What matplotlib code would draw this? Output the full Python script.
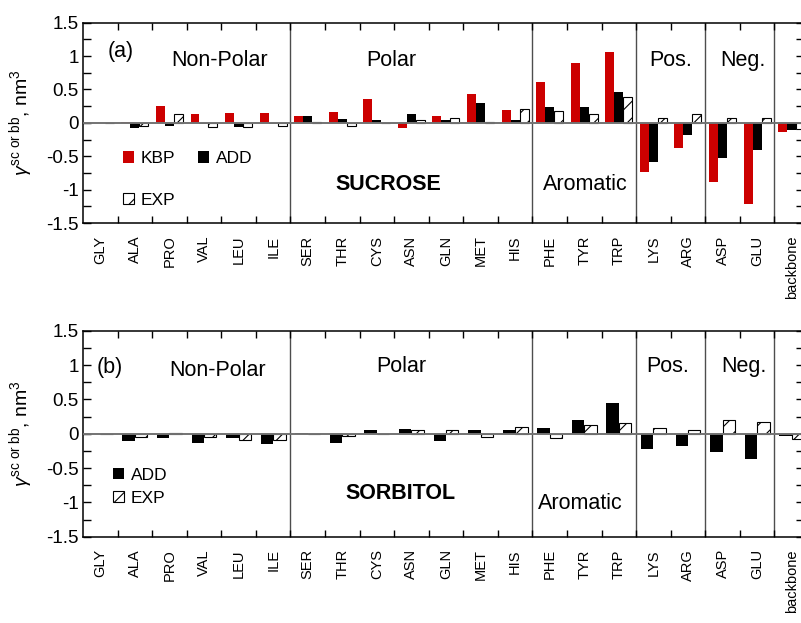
import matplotlib
matplotlib.use('Agg')
import matplotlib.pyplot as plt
from matplotlib.patches import Patch
from matplotlib.ticker import MultipleLocator
import numpy as np

plt.rcParams['font.family'] = ['Liberation Sans', 'DejaVu Sans']
plt.rcParams['mathtext.fontset'] = 'custom'
plt.rcParams['mathtext.rm'] = 'Liberation Sans'
plt.rcParams['mathtext.it'] = 'Liberation Sans:italic'
plt.rcParams['mathtext.bf'] = 'Liberation Sans:bold'
plt.rcParams['hatch.linewidth'] = 0.8

residues = ['GLY', 'ALA', 'PRO', 'VAL', 'LEU', 'ILE', 'SER', 'THR', 'CYS', 'ASN',
            'GLN', 'MET', 'HIS', 'PHE', 'TYR', 'TRP', 'LYS', 'ARG', 'ASP', 'GLU',
            'backbone']

# (a) sucrose
suc_kbp = [0.0, 0.01, 0.25, 0.13, 0.15, 0.15, 0.10, 0.16, 0.36, -0.07, 0.10,
           0.43, 0.19, 0.61, 0.90, 1.06, -0.74, -0.38, -0.89, -1.22, -0.13]
suc_add = [0.0, -0.07, -0.04, -0.01, -0.06, -0.01, 0.10, 0.06, 0.04, 0.13, 0.04,
           0.30, 0.04, 0.24, 0.23, 0.46, -0.58, -0.18, -0.53, -0.40, -0.10]
suc_exp = [0.0, -0.04, 0.13, -0.06, -0.06, -0.05, 0.01, -0.04, 0.0, 0.05, 0.08,
           0.01, 0.21, 0.17, 0.14, 0.38, 0.07, 0.14, 0.07, 0.07, -0.09]

# (b) sorbitol
sor_add = [0.0, -0.10, -0.06, -0.13, -0.06, -0.15, 0.005, -0.13, 0.05, 0.07, -0.10,
           0.06, 0.05, 0.09, 0.20, 0.44, -0.23, -0.18, -0.27, -0.37, -0.04]
sor_exp = [0.0, -0.045, 0.01, -0.055, -0.095, -0.09, 0.0, -0.03, 0.0, 0.05, 0.06,
           -0.05, 0.10, -0.06, 0.13, 0.16, 0.08, 0.06, 0.20, 0.165, -0.07]

group_edges = [5.5, 12.5, 15.5, 17.5, 19.5]
red = '#cc0000'

x = np.arange(len(residues))

fig = plt.figure(figsize=(8.01, 6.23), dpi=100)
ax1 = fig.add_axes([83 / 801, 1 - 223 / 623, 721 / 801, 200.3 / 623])
ax2 = fig.add_axes([83 / 801, 1 - 536.7 / 623, 721 / 801, 206 / 623])

# top panel bars
w = 0.26
ax1.bar(x - w, suc_kbp, w, color=red, zorder=2)
ax1.bar(x, suc_add, w, color='black', zorder=2)
ax1.bar(x + w, suc_exp, w, facecolor='white', edgecolor='black', linewidth=0.8,
        hatch='//', zorder=2)

# bottom panel bars
w2 = 0.36
ax2.bar(x - w2 / 2, sor_add, w2, color='black', zorder=2)
ax2.bar(x + w2 / 2, sor_exp, w2, facecolor='white', edgecolor='black', linewidth=0.8,
        hatch='//', zorder=2)

for ax in (ax1, ax2):
    ax.set_xlim(-0.5, 20.357)
    ax.set_ylim(-1.5, 1.5)
    ax.axhline(0, color='0.45', lw=1.4, zorder=3)
    for e in group_edges:
        ax.axvline(e, color='0.3', lw=1.0, zorder=1)
    ax.set_xticks(x)
    ax.set_xticklabels(residues, rotation=90, fontsize=10.5)
    ax.set_xticks(np.arange(-0.5, 20.5, 1.0)[1:], minor=True)
    ax.tick_params(axis='x', which='major', length=0, pad=9)
    ax.tick_params(axis='x', which='minor', direction='in', length=5, width=1,
                   top=True, bottom=True)
    ax.set_yticks([-1.5, -1, -0.5, 0, 0.5, 1, 1.5])
    ax.set_yticklabels(['-1.5', '-1', '-0.5', '0', '0.5', '1', '1.5'], fontsize=13.5)
    ax.yaxis.set_minor_locator(MultipleLocator(0.25))
    ax.tick_params(axis='y', which='both', direction='in', length=5.5, width=1,
                   left=True, right=True, pad=3)
    for s in ax.spines.values():
        s.set_linewidth(1.1)
    ax.set_ylabel(r'$\gamma^{\mathrm{sc\ or\ bb}}$, nm$^3$', fontsize=14)
    ax.yaxis.set_label_coords(-0.066, 0.5)

lab = dict(fontsize=15.5, ha='center', va='baseline')
ax1.text(0.22, 0.99, '(a)', fontsize=15.5, ha='left', va='baseline')
ax1.text(3.46, 0.858, 'Non-Polar', **lab)
ax1.text(8.41, 0.858, 'Polar', **lab)
ax1.text(16.5, 0.858, 'Pos.', **lab)
ax1.text(18.59, 0.858, 'Neg.', **lab)
ax1.text(8.33, -1.003, 'SUCROSE', fontweight='bold', **lab)
ax1.text(14.02, -1.013, 'Aromatic', **lab)

ax2.text(-0.12, 0.888, '(b)', fontsize=15.5, ha='left', va='baseline')
ax2.text(3.40, 0.845, 'Non-Polar', **lab)
ax2.text(8.70, 0.903, 'Polar', **lab)
ax2.text(16.42, 0.903, 'Pos.', **lab)
ax2.text(18.63, 0.903, 'Neg.', **lab)
ax2.text(8.68, -0.955, 'SORBITOL', fontweight='bold', **lab)
ax2.text(13.88, -1.10, 'Aromatic', **lab)

h_kbp = Patch(facecolor=red, edgecolor='none', label='KBP')
h_add = Patch(facecolor='black', edgecolor='none', label='ADD')
h_exp = Patch(facecolor='white', edgecolor='black', linewidth=0.8, hatch='//', label='EXP')

ax1.legend(handles=[h_kbp, h_exp, h_add], ncol=2, loc='upper left',
           bbox_to_anchor=(0.055, 0.36), frameon=False, fontsize=12.5,
           handlelength=0.64, handleheight=0.64, handletextpad=0.4,
           columnspacing=1.3, labelspacing=1.55, borderpad=0, borderaxespad=0)
ax2.legend(handles=[h_add, h_exp], ncol=1, loc='upper left',
           bbox_to_anchor=(0.042, 0.335), frameon=False, fontsize=12.5,
           handlelength=0.64, handleheight=0.64, handletextpad=0.35,
           labelspacing=0.45, borderpad=0, borderaxespad=0)

fig.savefig('out.png', dpi=100)
